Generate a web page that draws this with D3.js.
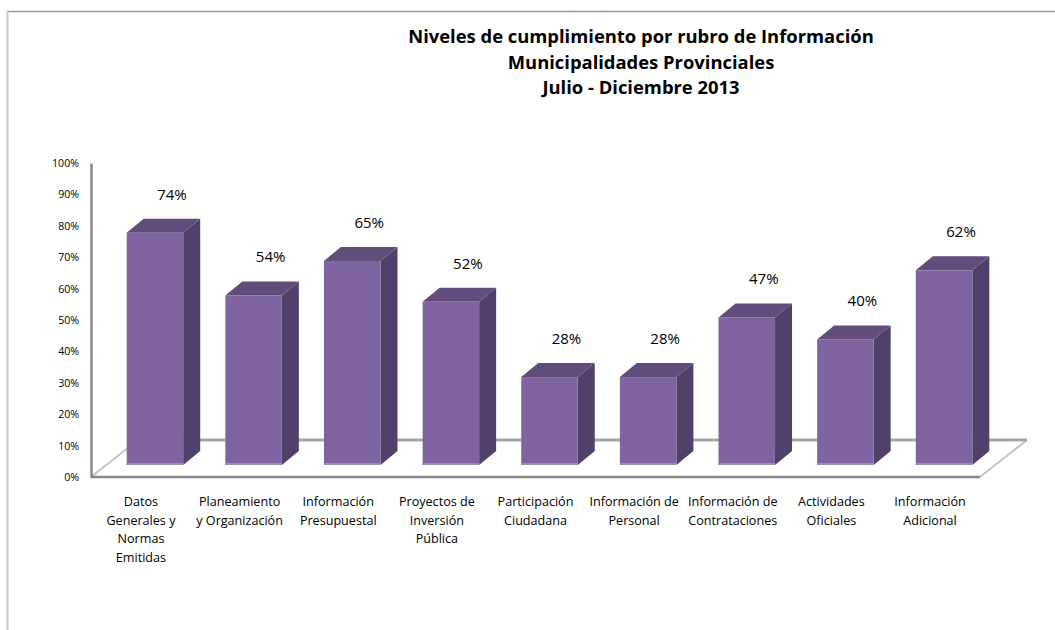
<!DOCTYPE html>
<html>
<head>
<meta charset="utf-8">
<script src="https://cdn.jsdelivr.net/npm/d3@7"></script>
<style>
  body { margin: 0; background: #fff; }
  svg { display: block; font-family: "Open Sans", Lato, sans-serif; }
</style>
</head>
<body>
<div id="vis"></div>
<script>
const WIDTH = 1055;
const HEIGHT = 630;

const TITLE = [
  "Niveles de cumplimiento por rubro de Información",
  "Municipalidades Provinciales",
  "Julio - Diciembre 2013"
];

const categorias = [
  ["Datos", "Generales y", "Normas", "Emitidas"],
  ["Planeamiento", "y Organización"],
  ["Información", "Presupuestal"],
  ["Proyectos de", "Inversión", "Pública"],
  ["Participación", "Ciudadana"],
  ["Información de", "Personal"],
  ["Información de", "Contrataciones"],
  ["Actividades", "Oficiales"],
  ["Información", "Adicional"]
];
const valores = [74, 54, 65, 52, 28, 28, 47, 40, 62];
const ticksY = [0, 10, 20, 30, 40, 50, 60, 70, 80, 90, 100];

// 3d offsets: depth of the floor, where the bars sit inside it, and bar depth
const floorDepth = { dx: 47, dy: -37 };
const barShift = { dx: 14, dy: -12 };
const barDepth = { dx: 17, dy: -14 };

const SVG = d3.select("#vis").append("svg").attr("width", WIDTH).attr("height", HEIGHT);

// frame
SVG.append("line").attr("x1", 7).attr("x2", WIDTH).attr("y1", 11.5).attr("y2", 11.5)
  .attr("stroke", "#9a9a9a").attr("stroke-width", 1.5);
SVG.append("line").attr("x1", 7.5).attr("x2", 7.5).attr("y1", 11).attr("y2", HEIGHT)
  .attr("stroke", "#c8c8c8").attr("stroke-width", 2);

// title
SVG.append("text")
  .attr("text-anchor", "middle")
  .attr("font-weight", "bold")
  .attr("font-size", 18.4)
  .attr("fill", "#000")
  .selectAll("tspan")
  .data(TITLE)
  .join("tspan")
  .attr("x", 641)
  .attr("y", (d, i) => 43 + i * 25.5)
  .text(d => d);

const x = d3.scaleBand().domain(d3.range(categorias.length)).range([91, 980])
  .paddingInner(0.427).paddingOuter(0.22);
const y = d3.scaleLinear().domain([0, 100]).range([477, 163]);

const x0 = x.range()[0], x1 = x.range()[1], y0 = y(0);

// floor
const floor = SVG.append("g");
floor.append("line")
  .attr("x1", x0).attr("y1", y0)
  .attr("x2", x0 + floorDepth.dx).attr("y2", y0 + floorDepth.dy)
  .attr("stroke", "#c4c4c4").attr("stroke-width", 2);
floor.append("line")
  .attr("x1", x1).attr("y1", y0)
  .attr("x2", x1 + floorDepth.dx).attr("y2", y0 + floorDepth.dy)
  .attr("stroke", "#c4c4c4").attr("stroke-width", 2);
floor.append("line")
  .attr("x1", x0 + floorDepth.dx).attr("y1", y0 + floorDepth.dy)
  .attr("x2", x1 + floorDepth.dx).attr("y2", y0 + floorDepth.dy)
  .attr("stroke", "#a6a6a6").attr("stroke-width", 3);
floor.append("line")
  .attr("x1", x0).attr("y1", y0)
  .attr("x2", x1).attr("y2", y0)
  .attr("stroke", "#888").attr("stroke-width", 2.5);

// y axis
const ejeY = d3.axisLeft(y).tickValues(ticksY).tickFormat(d => d + "%").tickSize(0).tickPadding(12);
const gY = SVG.append("g").attr("transform", "translate(" + x0 + ",0)").call(ejeY);
gY.select(".domain").attr("stroke", "#888").attr("stroke-width", 2.5);
gY.selectAll("text").attr("font-size", 10.6).attr("fill", "#000")
  .attr("font-family", "'Open Sans', sans-serif");

// bars
const barras = SVG.append("g").selectAll("g")
  .data(valores)
  .join("g")
  .attr("transform", (d, i) => "translate(" + (x(i) + barShift.dx) + "," + barShift.dy + ")");

const bw = x.bandwidth();

barras.append("path")
  .attr("fill", "#51406a")
  .attr("d", d => {
    const t = y(d), b = y0;
    return "M" + bw + "," + t + "L" + (bw + barDepth.dx) + "," + (t + barDepth.dy) +
      "L" + (bw + barDepth.dx) + "," + (b + barDepth.dy) + "L" + bw + "," + b + "Z";
  });

barras.append("path")
  .attr("fill", "#614c7c")
  .attr("d", d => {
    const t = y(d);
    return "M0," + t + "L" + barDepth.dx + "," + (t + barDepth.dy) +
      "L" + (bw + barDepth.dx) + "," + (t + barDepth.dy) + "L" + bw + "," + t + "Z";
  });

barras.append("rect")
  .attr("x", 0)
  .attr("y", d => y(d))
  .attr("width", bw)
  .attr("height", d => y0 - y(d))
  .attr("fill", "#8064a2");

barras.append("rect")
  .attr("x", 0)
  .attr("y", y0 - 2)
  .attr("width", bw)
  .attr("height", 2)
  .attr("fill", "#a08cbc");

// value labels
barras.append("text")
  .attr("x", bw / 2 + barDepth.dx)
  .attr("y", d => y(d) + barDepth.dy - 19)
  .attr("text-anchor", "middle")
  .attr("font-size", 15)
  .attr("fill", "#000")
  .text(d => d + "%");

// category labels
SVG.append("g").selectAll("text")
  .data(categorias)
  .join("text")
  .attr("text-anchor", "middle")
  .attr("font-size", 12.6)
  .attr("fill", "#000")
  .each(function(d, i) {
    d3.select(this).selectAll("tspan")
      .data(d)
      .join("tspan")
      .attr("x", x(i) + bw / 2)
      .attr("y", (t, j) => 506 + j * 18.5)
      .text(t => t);
  });
</script>
</body>
</html>
